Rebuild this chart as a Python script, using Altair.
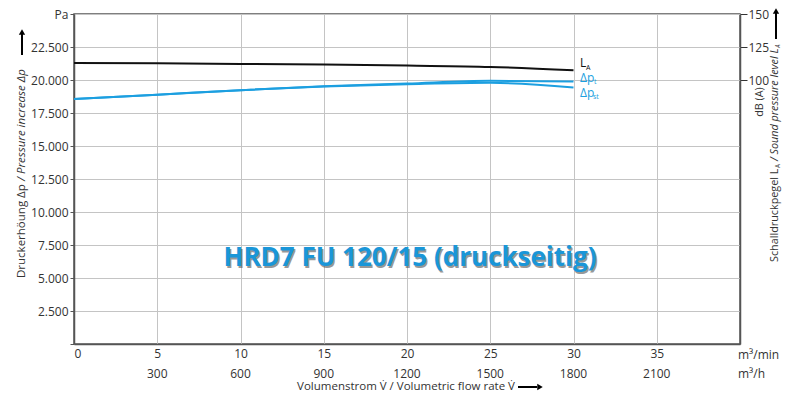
import altair as alt
import pandas as pd

# ---- data ----
flow = [0, 5, 10, 15, 20, 25, 30]                     # m³/min
dp_t = [18560, 18890, 19230, 19530, 19740, 19940, 19890]   # Pa
dp_st = [18560, 18890, 19230, 19510, 19680, 19790, 19440]  # Pa
la_db = [112.9, 112.6, 112.2, 111.7, 110.9, 109.9, 107.4]  # dB(A)

x_ticks = [0, 5, 10, 15, 20, 25, 30, 35, 40]
xh_pos = [5, 10, 15, 20, 25, 30, 35]
xh_labels = ["300", "600", "900", "1200", "1500", "1800", "2100"]
y_ticks = [0, 2500, 5000, 7500, 10000, 12500, 15000, 17500, 20000, 22500, 25000]
r_ticks = [100, 125, 150]

BLUE = "#1c9fe0"
BLACK = "#111111"
TXT = "#333333"
FONT = "Open Sans"
W, H = 666, 330

blue_df = pd.DataFrame(
    {"x": flow * 2, "y": dp_t + dp_st, "s": ["t"] * len(flow) + ["st"] * len(flow)}
)
la_df = pd.DataFrame({"x": flow, "db": la_db})
xh_df = pd.DataFrame({"x": xh_pos, "lab": xh_labels})
one = pd.DataFrame({"k": [0]})

xscale = alt.Scale(domain=[0, 40], nice=False, zero=False)
xaxis = alt.Axis(
    values=x_ticks, grid=True, gridColor="#c4c4c4", ticks=False,
    labelExpr="datum.value == 40 ? '' : datum.label",
    labelFlush=True, labelPadding=4, labelFont=FONT, labelFontSize=12,
    labelColor=TXT, domainColor="#555", domainWidth=1.5, title=None,
)
X = alt.X("x:Q", scale=xscale, axis=xaxis)

yaxis = alt.Axis(
    values=y_ticks, grid=True, gridColor="#c4c4c4", tickSize=4, tickColor="#555",
    labelExpr="datum.value == 0 ? '' : (datum.value == 25000 ? 'Pa' : replace(datum.label, ',', '.'))",
    labelFlush=False, labelPadding=2, labelFont=FONT, labelFontSize=12,
    labelColor=TXT, domainColor="#555", domainWidth=1.5, title=None,
)

blue_lines = alt.Chart(blue_df).mark_line(strokeWidth=2, interpolate="monotone").encode(
    x=X,
    y=alt.Y("y:Q", scale=alt.Scale(domain=[0, 25000], nice=False), axis=yaxis),
    detail="s:N",
    color=alt.value(BLUE),
)

la_line = alt.Chart(la_df).mark_line(strokeWidth=2, interpolate="monotone", color=BLACK).encode(
    x=X,
    y=alt.Y(
        "db:Q",
        scale=alt.Scale(domain=[-100, 150], nice=False, zero=False),
        axis=alt.Axis(
            orient="right", values=r_ticks, grid=False, tickSize=7, tickColor="#333",
            labelPadding=1, labelFont=FONT, labelFontSize=12, labelColor=TXT,
            domainColor="#555", domainWidth=1.5, title=None,
        ),
    ),
)


def txt(text, x, y, size=12, color=TXT, align="left", angle=0, style="normal",
        weight="normal", baseline="alphabetic", opacity=1.0):
    return alt.Chart(one).mark_text(
        text=text, align=align, baseline=baseline, angle=angle, font=FONT,
        fontSize=size, fontStyle=style, fontWeight=weight, color=color, opacity=opacity,
    ).encode(x=alt.value(x), y=alt.value(y))


# second row of x labels (m³/h) through the x scale
xh_text = alt.Chart(xh_df).mark_text(
    font=FONT, fontSize=12, color=TXT, baseline="middle"
).encode(x=X, y=alt.value(H + 30), text="lab:N")

TS = 11.5   # left axis-title font size
TR = 10.8   # right axis-title font size
ann = [
    # unit labels
    txt("m³/min", 664, H + 11, baseline="middle"),
    txt("m³/h", 664, H + 30, baseline="middle"),
    # curve end labels
    txt("L", 506, 53, color=BLACK),
    txt("A", 512, 56, size=7, color=BLACK),
    txt("Δp", 506, 68, color=BLUE),
    txt("t", 520, 70, size=7, color=BLUE),
    txt("Δp", 506, 83, color=BLUE),
    txt("st", 519, 85, size=7, color=BLUE),
    # model title with shadow
    txt("HRD7 FU 120/15 (druckseitig)", 337.5, 253.5, size=26, color="#555555",
        align="center", weight="bold", opacity=0.6),
    txt("HRD7 FU 120/15 (druckseitig)", 336, 252, size=26, color="#1a96d8",
        align="center", weight="bold"),
    # bottom axis title
    txt("Volumenstrom V\u0307 / Volumetric flow rate V\u0307", 332, H + 43, size=11.5,
        align="center", baseline="middle"),
    # left axis title
    txt("Druckerhöung Δp", -52, 264, size=TS, angle=270, baseline="middle"),
    txt("/ Pressure increase Δp", -52, 167, size=TS, angle=270, baseline="middle",
        style="italic"),
    # right axis title
    txt("dB (A)", 686, 88, size=TR, angle=270, baseline="middle", align="center"),
    txt("Schalldruckpegel L", 701, 248, size=TR, angle=270, baseline="middle"),
    txt("A", 704, 154, size=6.5, angle=270, baseline="middle"),
    txt("/ Sound pressure level L", 701, 147, size=TR, angle=270, baseline="middle", style="italic"),
    txt("A", 704, 34, size=6.5, angle=270, baseline="middle", style="italic"),
]

# arrows
def vrule(x, y1, y2):
    return alt.Chart(one).mark_rule(color="black", strokeWidth=2).encode(
        x=alt.value(x), y=alt.value(y1), y2=alt.value(y2))

def head(shape, x, y):
    return alt.Chart(one).mark_point(shape=shape, filled=True, size=40, color="black", opacity=1).encode(
        x=alt.value(x), y=alt.value(y))

arrows = [
    vrule(-52, 41, 20),
    head("triangle-up", -52, 18),
    vrule(702, 25, -1),
    head("triangle-up", 702, -3),
    alt.Chart(one).mark_rule(color="black", strokeWidth=2).encode(
        x=alt.value(444), x2=alt.value(463), y=alt.value(H + 43)),
    head("triangle-right", 466, H + 43),
]

chart = (
    alt.layer(blue_lines, la_line, xh_text, *ann, *arrows)
    .resolve_scale(y="independent")
    .properties(
        width=W, height=H,
        padding={"left": 66, "top": 6, "right": 45, "bottom": 60},
        autosize=alt.AutoSizeParams(type="none"),
    )
    .configure_view(stroke="#555", strokeWidth=1.5)
)

chart.save("out.html", embed_options={"renderer": "svg", "actions": False})
